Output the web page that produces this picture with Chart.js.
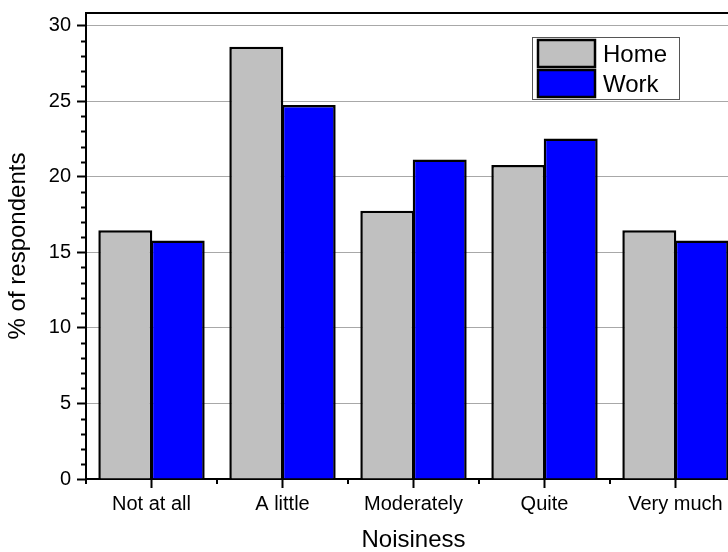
<!DOCTYPE html>
<html>
<head>
<meta charset="utf-8">
<script src="https://cdn.jsdelivr.net/npm/chart.js@4"></script>
<style>
  html, body { margin: 0; padding: 0; background: #fff; overflow: hidden; }
  #wrap { position: relative; width: 728px; height: 552px; overflow: hidden; }
  canvas { position: absolute; left: 0; top: 0; }
</style>
</head>
<body>
<div id="wrap"><canvas id="chart" width="760" height="552"></canvas></div>
<script>
// Data
const categories = ["Not at all", "A little", "Moderately", "Quite", "Very much"];
const homeValues = [16.47, 28.6, 17.75, 20.78, 16.47];
const workValues = [15.79, 24.75, 21.15, 22.54, 15.79];
const seriesNames = ["Home", "Work"];

const FONT = "'Liberation Sans', Arial, sans-serif";
const Y_MAX = 30.84;

// minor ticks, top frame and boxed legend
const extras = {
  id: "extras",
  afterDraw(chart) {
    const ctx = chart.ctx;
    const area = chart.chartArea;
    const x = chart.scales.x, y = chart.scales.y;
    ctx.save();
    ctx.strokeStyle = "#000";
    ctx.lineWidth = 2;

    //minor y ticks every 1
    for (let v = 1; v < 31; v++) {
      if (v % 5 === 0) continue;
      const py = Math.round(y.getPixelForValue(v)) + 0.5;
      ctx.beginPath();
      ctx.moveTo(area.left - 5, py);
      ctx.lineTo(area.left, py);
      ctx.stroke();
    }
    //minor x ticks at category borders
    for (let i = 0; i <= categories.length; i++) {
      const px = Math.round(x.getPixelForValue(i - 0.5));
      ctx.beginPath();
      ctx.moveTo(px, area.bottom);
      ctx.lineTo(px, area.bottom + 5);
      ctx.stroke();
    }
    //top frame
    ctx.beginPath();
    ctx.moveTo(area.left, area.top);
    ctx.lineTo(area.right, area.top);
    ctx.stroke();

    //legend
    const lx = 532, ly = 37;
    ctx.lineWidth = 1;
    ctx.strokeStyle = "#555";
    ctx.strokeRect(lx + 0.5, ly + 0.5, 147, 62);
    ctx.font = "24px " + FONT;
    ctx.textBaseline = "middle";
    chart.data.datasets.forEach(function (ds, i) {
      const sy = ly + 3 + i * 30;
      ctx.fillStyle = ds.backgroundColor;
      ctx.fillRect(lx + 6, sy, 57, 27);
      ctx.lineWidth = 2.5;
      ctx.strokeStyle = "#000";
      ctx.strokeRect(lx + 6, sy, 57, 27);
      ctx.fillStyle = "#000";
      ctx.fillText(ds.label, lx + 71, sy + 15);
    });
    ctx.restore();
  }
};

new Chart(document.getElementById("chart"), {
  type: "bar",
  data: {
    labels: categories,
    datasets: [
      { label: seriesNames[0], data: homeValues, backgroundColor: "#c0c0c0", borderColor: "#000", borderWidth: 2.5 },
      { label: seriesNames[1], data: workValues, backgroundColor: "#0000ff", borderColor: "#000", borderWidth: 2.5 },
    ],
  },
  options: {
    responsive: false,
    animation: false,
    layout: { padding: { top: 13, right: 19, left: 0, bottom: 0 } },
    datasets: { bar: { barPercentage: 1.03, categoryPercentage: 0.8 } },
    plugins: { legend: { display: false }, tooltip: { enabled: false } },
    scales: {
      x: {
        grid: { offset: false, drawOnChartArea: false, tickLength: 9, tickColor: "#000", tickWidth: 2 },
        border: { color: "#000", width: 2 },
        ticks: { color: "#000", font: { family: FONT, size: 20 }, padding: 4, maxRotation: 0 },
        title: { display: true, text: "Noisiness", color: "#000", font: { family: FONT, size: 24, lineHeight: 1 }, padding: 0 },
        afterFit(scale) {
          scale.height = 73;
          scale.paddingLeft = 0;
          scale.paddingRight = 0;
        },
      },
      y: {
        min: 0,
        max: Y_MAX,
        grid: {
          color: function (c) { return c.tick && c.tick.value === 0 ? "rgba(0,0,0,0)" : "#a8a8a8"; },
          lineWidth: 1,
          tickLength: 9,
          tickColor: "#000",
          tickWidth: 2,
        },
        border: { color: "#000", width: 2 },
        ticks: { stepSize: 5, includeBounds: false, color: "#000", font: { family: FONT, size: 20 }, padding: 6 },
        title: { display: true, text: "% of respondents", color: "#000", font: { family: FONT, size: 24, lineHeight: 1 }, padding: { top: 6, bottom: 0 } },
        afterFit(scale) {
          scale.width = 86;
          scale.paddingTop = 0;
          scale.paddingBottom = 0;
        },
      },
    },
  },
  plugins: [extras],
});
</script>
</body>
</html>
